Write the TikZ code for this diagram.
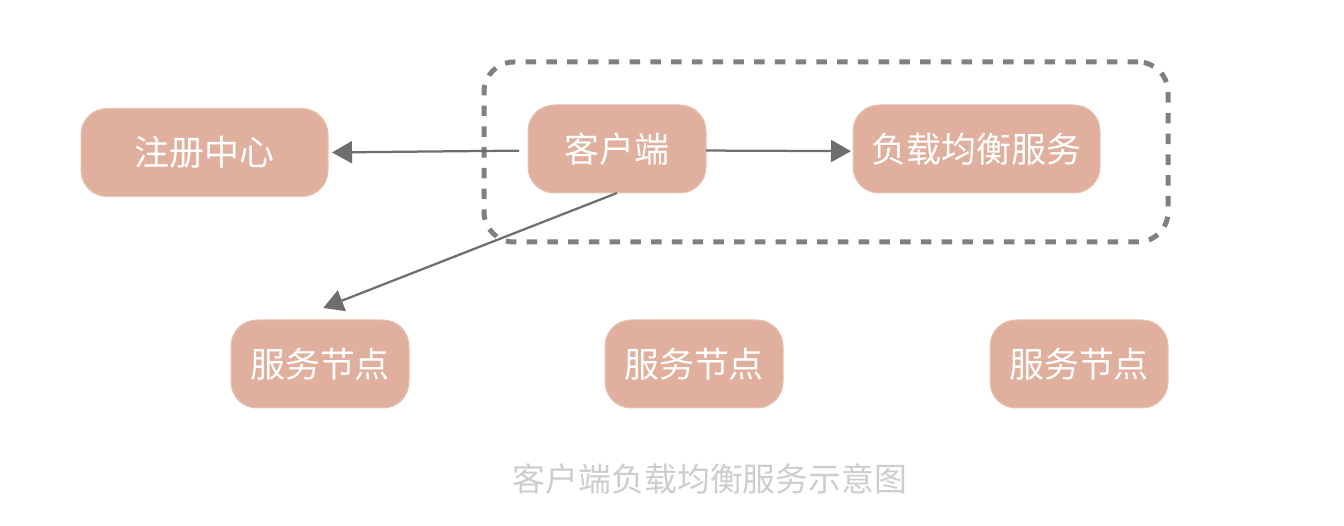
\documentclass[tikz,border=0pt]{standalone}
\usepackage{fontspec}
\setmainfont{Noto Sans CJK SC}
\usepackage{xcolor}
\usetikzlibrary{arrows.meta,positioning}

\definecolor{boxfill}{HTML}{E0AF9D}
\definecolor{boxline}{HTML}{E8C2B2}
\definecolor{dashgray}{HTML}{808080}
\definecolor{arrowgray}{HTML}{6E6E6E}
\definecolor{captiongray}{HTML}{CDCDCD}

\begin{document}
\begin{tikzpicture}[
    box/.style={rectangle, draw=boxline, fill=boxfill, line width=0.02cm, rounded corners=0.52cm, outer sep=0pt, minimum height=1.76cm, align=center, text=white, font=\fontsize{19.9}{24}\selectfont},
    smallbox/.style={box, minimum width=3.56cm},
    widebox/.style={box, minimum width=4.94cm},
    groupbox/.style={rectangle, draw=dashgray, line width=0.1cm, dash pattern=on 0.21cm off 0.205cm, rounded corners=0.6cm, minimum width=13.68cm, minimum height=3.6cm},
    arrow/.style={-{Triangle[length=0.4cm,width=0.44cm]}, draw=arrowgray, fill=arrowgray, line width=0.045cm}
]
\useasboundingbox (0,0) rectangle (26.88,-10.52);

% Dashed group
\node[groupbox] (group) at (16.52,-3.04) {};

% Upper row
\node[smallbox] (client) at (12.34,-2.98) {客户端};
\node[widebox, right=2.94cm of client] (balancer) {负载均衡服务};
\node[widebox, left=4cm of client, yshift=-0.07cm] (registry) {注册中心};

% Service nodes
\node[smallbox] (svc1) at (6.4,-7.28) {服务节点};
\node[smallbox, right=3.92cm of svc1] (svc2) {服务节点};
\node[smallbox, right=4.14cm of svc2] (svc3) {服务节点};

% Arrows
\draw[arrow, shorten <=0.18cm, shorten >=0.08cm] (client.181.3) -- (registry.0.7);
\draw[arrow, shorten >=0.04cm] (client.-1.3) -- (balancer.181);
\draw[arrow, shorten >=0.66cm] (client.south) -- (svc1.122);

% Caption
\node[below=0.98cm of svc2, xshift=0.32cm, text=captiongray, font=\fontsize{18.7}{22}\selectfont] (caption) {客户端负载均衡服务示意图};

\end{tikzpicture}
\end{document}
